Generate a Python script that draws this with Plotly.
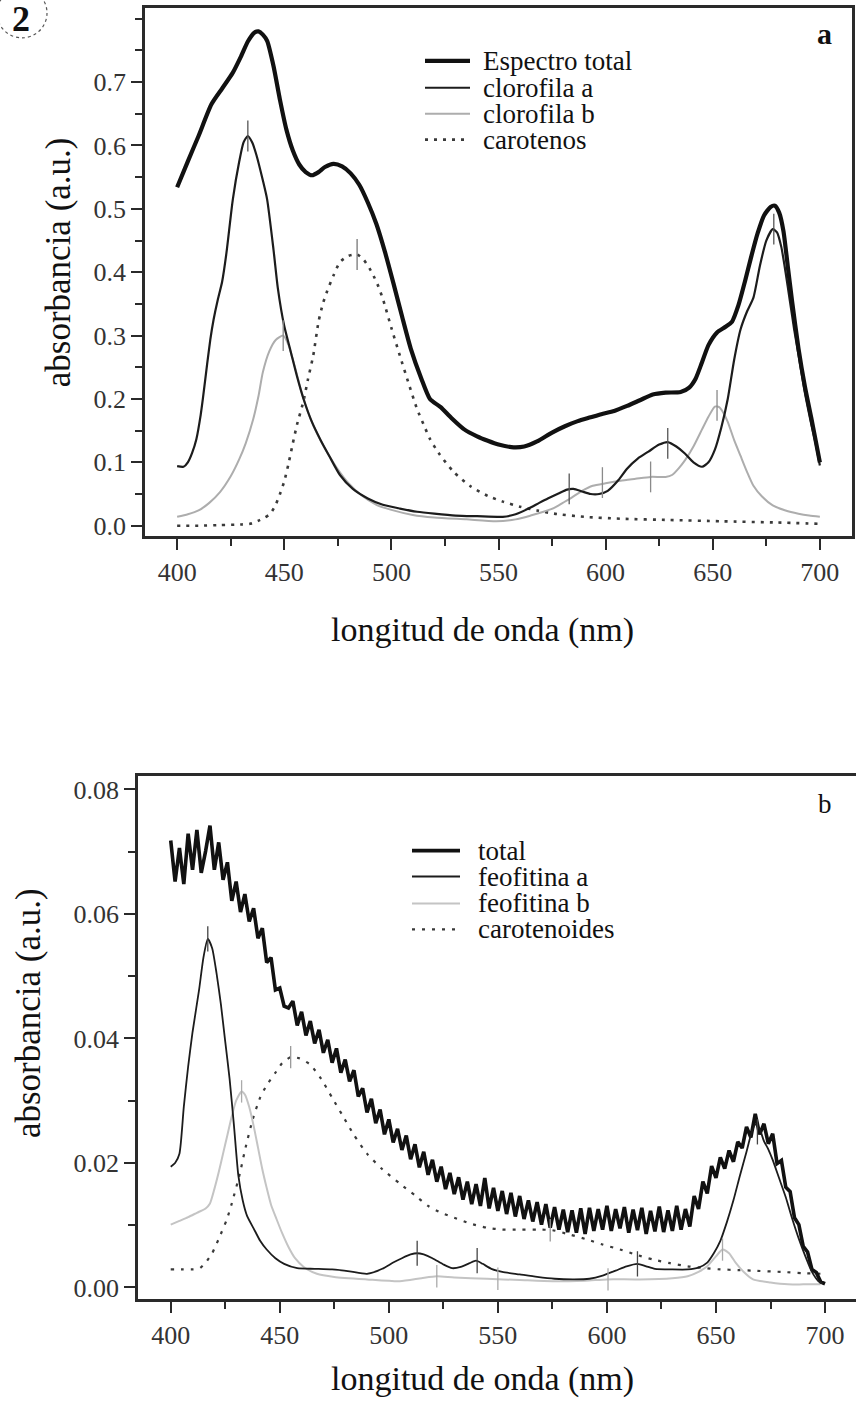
import plotly.graph_objects as go

W, H = 857, 1409
def px(x):
    return x / W
def py(y):
    return 1 - y / H

FONT = "Liberation Serif, Times New Roman, serif"

# ---------------- Panel a data ----------------
total_a_x = [400, 405, 410, 416, 421, 426, 430, 433, 436, 438, 440, 442, 445, 448, 451, 454, 457, 460, 463,
             466, 469, 473, 477, 481, 485, 489, 493, 497, 501, 505, 509, 514, 518, 523, 528, 534, 540, 545,
             550, 556, 562, 568, 575, 581, 587, 593, 598, 604, 610, 616, 622, 628, 635, 639, 642, 645, 648,
             652, 656, 659, 662, 665, 668, 671, 674, 677, 679, 681, 683, 685, 687, 690, 693, 696, 698, 700]
total_a_y = [0.534, 0.575, 0.615, 0.665, 0.690, 0.715, 0.742, 0.764, 0.778, 0.780, 0.775, 0.765, 0.725, 0.672,
             0.625, 0.592, 0.570, 0.558, 0.553, 0.558, 0.566, 0.571, 0.567, 0.556, 0.538, 0.510, 0.476, 0.432,
             0.382, 0.330, 0.280, 0.232, 0.200, 0.187, 0.170, 0.152, 0.141, 0.134, 0.128, 0.124, 0.125, 0.133,
             0.147, 0.157, 0.165, 0.171, 0.176, 0.181, 0.189, 0.198, 0.207, 0.210, 0.211, 0.218, 0.232, 0.258,
             0.285, 0.305, 0.314, 0.322, 0.348, 0.385, 0.425, 0.462, 0.490, 0.503, 0.505, 0.494, 0.465, 0.410,
             0.355, 0.280, 0.220, 0.170, 0.135, 0.100]

chla_x = [400, 403, 405, 407, 409, 411, 412, 414, 415.5, 417, 419, 421, 423, 426, 429, 431, 433, 435, 437, 440,
          442, 445, 447, 450, 453, 456, 459, 463, 467, 471, 476, 482, 489, 496, 504, 512, 520, 530, 540, 552,
          558, 564, 569, 573, 578, 582, 585, 589, 593, 597, 601, 606, 610, 615, 620, 625, 629, 633, 637, 641,
          645, 648, 651, 654, 657, 660, 663, 666, 669, 672, 675, 678, 680, 682, 684, 686, 688, 690, 693, 696,
          698, 700]
chla_y = [0.094, 0.093, 0.100, 0.115, 0.137, 0.175, 0.200, 0.255, 0.294, 0.325, 0.357, 0.385, 0.430, 0.515,
          0.575, 0.605, 0.615, 0.605, 0.585, 0.545, 0.515, 0.435, 0.375, 0.315, 0.275, 0.235, 0.200, 0.163,
          0.135, 0.110, 0.080, 0.058, 0.043, 0.033, 0.027, 0.022, 0.019, 0.016, 0.015, 0.014, 0.018, 0.027,
          0.036, 0.043, 0.051, 0.057, 0.058, 0.054, 0.050, 0.050, 0.055, 0.072, 0.090, 0.106, 0.117, 0.128,
          0.132, 0.125, 0.114, 0.100, 0.093, 0.100, 0.120, 0.155, 0.200, 0.262, 0.310, 0.338, 0.360, 0.410,
          0.450, 0.468, 0.463, 0.440, 0.400, 0.355, 0.310, 0.270, 0.210, 0.160, 0.130, 0.095]

chlb_x = [400, 405, 410, 415, 420, 425, 429, 432, 435.5, 438, 440, 443, 446, 449.5, 452, 455, 458, 461, 464,
          467, 470, 475, 480, 486, 493, 500, 510, 520, 535, 549, 558, 565, 571, 576, 580, 584, 589, 594, 600,
          607, 614, 621, 628, 631, 634, 637, 641, 645, 648, 651, 653, 655, 657, 660, 663, 666, 669, 673, 678,
          684, 690, 695, 700]
chlb_y = [0.014, 0.018, 0.024, 0.036, 0.053, 0.078, 0.105, 0.130, 0.168, 0.205, 0.242, 0.275, 0.293, 0.300,
          0.285, 0.250, 0.212, 0.180, 0.155, 0.134, 0.116, 0.089, 0.067, 0.048, 0.033, 0.025, 0.017, 0.013,
          0.010, 0.007, 0.010, 0.016, 0.022, 0.028, 0.036, 0.044, 0.055, 0.063, 0.067, 0.071, 0.074, 0.077,
          0.077, 0.080, 0.090, 0.103, 0.125, 0.152, 0.172, 0.188, 0.187, 0.178, 0.164, 0.135, 0.110, 0.085,
          0.063, 0.046, 0.032, 0.024, 0.019, 0.016, 0.014]

car_x = [400, 410, 420, 430, 434, 438, 441, 443.5, 446, 448, 450, 452, 454, 456, 459, 461, 463.5, 466, 468,
         470, 473, 476, 480, 484, 487, 490, 492, 494, 496.3, 500, 504, 508, 512, 515, 518, 522, 529, 537, 545,
         552, 560, 568, 576, 590, 607, 630, 654, 680, 700]
car_y = [0.000, 0.000, 0.001, 0.002, 0.003, 0.008, 0.013, 0.019, 0.033, 0.050, 0.070, 0.098, 0.130, 0.160,
         0.197, 0.230, 0.268, 0.322, 0.350, 0.370, 0.395, 0.416, 0.426, 0.428, 0.420, 0.405, 0.392, 0.377,
         0.355, 0.312, 0.268, 0.225, 0.184, 0.160, 0.137, 0.115, 0.085, 0.062, 0.047, 0.038, 0.030, 0.024,
         0.019, 0.014, 0.011, 0.009, 0.007, 0.005, 0.003]

# peak markers (panel a)
chla_pk_x = [433, 583, 629, 678.5]
chla_pk_y = [0.615, 0.058, 0.130, 0.468]
chlb_pk_x = [449.5, 598.5, 621, 652]
chlb_pk_y = [0.300, 0.068, 0.077, 0.190]
car_pk_x = [484]
car_pk_y = [0.428]

# ---------------- Panel b data ----------------
total_b_x = list(range(400, 701, 2))
total_b_y = [
    0.0718, 0.0652, 0.0706, 0.0648, 0.0729, 0.0671, 0.0735, 0.0666, 0.0701, 0.0742,
    0.0671, 0.0715, 0.0655, 0.0683, 0.0621, 0.0652, 0.0603, 0.0632, 0.0588, 0.0609,
    0.0561, 0.0577, 0.0522, 0.0530, 0.0478, 0.0481, 0.0452, 0.0449, 0.0460, 0.0421,
    0.0443, 0.0405, 0.0428, 0.0392, 0.0414, 0.0377, 0.0398, 0.0361, 0.0384, 0.0345,
    0.0366, 0.0331, 0.0349, 0.0307, 0.0320, 0.0281, 0.0303, 0.0264, 0.0286, 0.0246,
    0.0270, 0.0233, 0.0255, 0.0221, 0.0244, 0.0206, 0.0230, 0.0193, 0.0218, 0.0181,
    0.0205, 0.0170, 0.0194, 0.0158, 0.0184, 0.0150, 0.0177, 0.0141, 0.0170, 0.0134,
    0.0166, 0.0131, 0.0176, 0.0127, 0.0160, 0.0123, 0.0155, 0.0118, 0.0152, 0.0114,
    0.0147, 0.0110, 0.0140, 0.0106, 0.0137, 0.0101, 0.0134, 0.0096, 0.0129, 0.0093,
    0.0125, 0.0089, 0.0124, 0.0088, 0.0127, 0.0086, 0.0128, 0.0091, 0.0126, 0.0093,
    0.0131, 0.0091, 0.0126, 0.0095, 0.0129, 0.0088, 0.0125, 0.0092, 0.0128, 0.0086,
    0.0123, 0.0090, 0.0130, 0.0089, 0.0124, 0.0091, 0.0131, 0.0093, 0.0126, 0.0098,
    0.0147, 0.0126, 0.0170, 0.0151, 0.0195, 0.0176, 0.0209, 0.0191, 0.0220, 0.0202,
    0.0234, 0.0224, 0.0258, 0.0241, 0.0279, 0.0246, 0.0263, 0.0231, 0.0247, 0.0199,
    0.0204, 0.0161, 0.0154, 0.0112, 0.0101, 0.0066, 0.0057, 0.0029, 0.0024, 0.0009,
    0.0006]

feoa_x = [400, 402, 404, 406, 408, 410, 413, 415, 417, 419, 421, 423, 425, 427, 429, 431, 433, 435, 438, 441,
          444, 448, 452, 458, 466, 474, 482, 490, 497, 502, 506, 510, 513, 516, 520, 525, 529, 533, 537, 540,
          543, 547, 552, 560, 568, 576, 585, 592, 598, 604, 609, 614, 618, 622, 630, 637, 642, 646, 649, 652,
          655, 658, 661, 664, 666, 668, 670, 672, 674, 676, 679, 682, 685, 688, 691, 694, 697, 699]
feoa_y = [0.0194, 0.0200, 0.0215, 0.0290, 0.0355, 0.0410, 0.0478, 0.0530, 0.0560, 0.0545, 0.0505, 0.0455,
          0.0395, 0.0335, 0.0260, 0.0180, 0.0140, 0.0115, 0.0095, 0.0075, 0.0061, 0.0047, 0.0038, 0.0031,
          0.0030, 0.0029, 0.0026, 0.0022, 0.0030, 0.0040, 0.0047, 0.0053, 0.0055, 0.0053, 0.0047, 0.0037,
          0.0031, 0.0033, 0.0039, 0.0043, 0.0038, 0.0030, 0.0025, 0.0021, 0.0017, 0.0014, 0.0013, 0.0014,
          0.0019, 0.0027, 0.0034, 0.0038, 0.0034, 0.0030, 0.0029, 0.0029, 0.0032, 0.0040, 0.0055, 0.0075,
          0.0105, 0.0140, 0.0180, 0.0218, 0.0245, 0.0262, 0.0255, 0.0235, 0.0222, 0.0205, 0.0175, 0.0145,
          0.0110, 0.0078, 0.0050, 0.0025, 0.0010, 0.0006]

feob_x = [400, 404, 408, 412, 416, 418, 420, 422, 424, 426, 428, 430, 432.5, 434, 436, 438, 440, 442, 444, 446,
          448.5, 451, 454, 457, 461, 467, 475, 490, 505, 515, 522, 530, 545, 560, 575, 590, 600, 615, 630, 637,
          642, 646, 650, 653, 656, 659, 663, 667, 675, 683, 690, 698]
feob_y = [0.0101, 0.0107, 0.0113, 0.0120, 0.0127, 0.0135, 0.0158, 0.0185, 0.0215, 0.0245, 0.0275, 0.0300,
          0.0315, 0.0310, 0.0290, 0.0260, 0.0225, 0.0190, 0.0160, 0.0133, 0.0110, 0.0088, 0.0065, 0.0047,
          0.0033, 0.0022, 0.0017, 0.0013, 0.0010, 0.0015, 0.0018, 0.0016, 0.0014, 0.0012, 0.0010, 0.0011,
          0.0013, 0.0013, 0.0015, 0.0018, 0.0025, 0.0034, 0.0050, 0.0061, 0.0055, 0.0040, 0.0024, 0.0013,
          0.0008, 0.0005, 0.0005, 0.0005]

carb_x = [400, 405, 410, 413, 416, 419, 422, 425.7, 428, 431.7, 434, 437.6, 441, 444, 448, 451, 455, 459, 464,
          469, 474, 479, 484, 490, 497, 505, 512, 518, 524, 530, 537, 545, 552, 560, 568, 575, 583, 591, 598,
          606, 613, 621, 629, 637, 645, 652, 660, 667, 680, 690, 698]
carb_y = [0.0029, 0.0029, 0.0029, 0.0030, 0.0040, 0.0055, 0.0078, 0.0109, 0.0135, 0.0183, 0.0220, 0.0270,
          0.0305, 0.0325, 0.0345, 0.0360, 0.0370, 0.0368, 0.0358, 0.0335, 0.0305, 0.0275, 0.0245, 0.0215,
          0.0190, 0.0167, 0.0148, 0.0131, 0.0120, 0.0112, 0.0103, 0.0096, 0.0093, 0.0093, 0.0093, 0.0092,
          0.0085, 0.0077, 0.0069, 0.0061, 0.0053, 0.0045, 0.0039, 0.0034, 0.0031, 0.0029, 0.0028, 0.0027,
          0.0025, 0.0023, 0.0022]

feoa_pk_x = [417, 513, 540.5, 614, 669]
feoa_pk_y = [0.0560, 0.0055, 0.0043, 0.0038, 0.0250]
feob_pk_x = [432.5, 522, 550, 600.5, 653]
feob_pk_y = [0.0315, 0.0018, 0.0014, 0.0013, 0.0061]
carb_pk_x = [455, 574]
carb_pk_y = [0.0370, 0.0092]

# tick labels
x_ticks = [400, 450, 500, 550, 600, 650, 700]
ya_ticks = [0.0, 0.1, 0.2, 0.3, 0.4, 0.5, 0.6, 0.7]
yb_ticks = [0.00, 0.02, 0.04, 0.06, 0.08]

legend_a = ["Espectro total", "clorofila a", "clorofila b", "carotenos"]
legend_b = ["total", "feofitina a", "feofitina b", "carotenoides"]

# ---------------- styles ----------------
BLACK = "#111111"
GREY = "#adadad"
GREY_B = "#c4c4c4"
DOT = "#3a3a3a"
styles_a = [dict(color=BLACK, width=4.2, dash="solid"),
            dict(color="#1c1c1c", width=2.2, dash="solid"),
            dict(color=GREY, width=2.0, dash="solid"),
            dict(color=DOT, width=2.6, dash="3px,6px")]
styles_b = [dict(color=BLACK, width=3.6, dash="solid"),
            dict(color="#1c1c1c", width=1.8, dash="solid"),
            dict(color=GREY_B, width=2.0, dash="solid"),
            dict(color=DOT, width=2.2, dash="3px,7px")]

fig = go.Figure()

def add_line(x, y, style, xa, ya, shape="spline"):
    fig.add_trace(go.Scatter(x=x, y=y, mode="lines", line=dict(shape=shape, smoothing=0.6, **style),
                             xaxis=xa, yaxis=ya, showlegend=False, hoverinfo="skip"))

def add_peaks(x, y, color, size, xa, ya):
    fig.add_trace(go.Scatter(x=x, y=y, mode="markers",
                             marker=dict(symbol="line-ns", size=size, color=color,
                                         line=dict(color=color, width=1.3)),
                             xaxis=xa, yaxis=ya, showlegend=False, hoverinfo="skip"))

# panel a
add_line(car_x, car_y, styles_a[3], "x", "y")
add_line(chlb_x, chlb_y, styles_a[2], "x", "y")
add_line(chla_x, chla_y, styles_a[1], "x", "y")
add_line(total_a_x, total_a_y, styles_a[0], "x", "y")
add_peaks(chla_pk_x, chla_pk_y, "#555555", 22, "x", "y")
add_peaks(chlb_pk_x, chlb_pk_y, "#8a8a8a", 22, "x", "y")
add_peaks(car_pk_x, car_pk_y, "#777777", 22, "x", "y")

# panel b
add_line(carb_x, carb_y, styles_b[3], "x2", "y2")
add_line(feob_x, feob_y, styles_b[2], "x2", "y2")
add_line(total_b_x, total_b_y, styles_b[0], "x2", "y2", shape="linear")
add_line(feoa_x, feoa_y, styles_b[1], "x2", "y2")
add_peaks(feoa_pk_x, feoa_pk_y, "#444444", 18, "x2", "y2")
add_peaks(feob_pk_x, feob_pk_y, "#aaaaaa", 16, "x2", "y2")
add_peaks(carb_pk_x, carb_pk_y, "#999999", 16, "x2", "y2")

AX = "#2a2a2a"
tickfont = dict(family=FONT, size=26, color="#333333")

def xaxis_cfg(domain, rng):
    return dict(domain=domain, range=rng, tickvals=x_ticks, ticks="outside", ticklen=11, tickwidth=2,
                tickcolor=AX, showline=True, linecolor=AX, linewidth=2.5, mirror=True, showgrid=False,
                zeroline=False, tickfont=tickfont, ticklabelstandoff=0,
                minor=dict(dtick=25, tick0=400, ticks="outside", ticklen=7, tickwidth=2, tickcolor=AX,
                           showgrid=False))

def yaxis_cfg(domain, rng, tv, fmt, minor_dt, mirror=True):
    return dict(domain=domain, range=rng, tickvals=tv, tickformat=fmt, ticks="outside", ticklen=11,
                tickwidth=2, tickcolor=AX, showline=True, linecolor=AX, linewidth=2.5, mirror=mirror,
                showgrid=False, zeroline=False, tickfont=tickfont, ticklabelstandoff=0,
                minor=dict(dtick=minor_dt, tick0=0, ticks="outside", ticklen=7, tickwidth=2, tickcolor=AX,
                           showgrid=False))

fig.update_layout(
    width=W, height=H, margin=dict(l=0, r=0, t=0, b=0),
    paper_bgcolor="white", plot_bgcolor="white",
    font=dict(family=FONT, color="#111111"),
    xaxis=xaxis_cfg([px(145), px(852)], [385, 715]),
    yaxis=yaxis_cfg([py(538), py(8)], [-0.017, 0.817], ya_ticks, ".1f", 0.05),
    xaxis2=dict(xaxis_cfg([px(138), px(856)], [385, 714.2]), anchor="y2"),
    yaxis2=dict(yaxis_cfg([py(1303), py(778)], [-0.0019, 0.0822], yb_ticks, ".2f", 0.01, mirror=False),
                anchor="x2"),
)
fig.layout.xaxis.anchor = "y"
fig.layout.yaxis.anchor = "x"

annotations = []
shapes = []

# axis titles
for (cx, cy) in [(482, 632), (482, 1383)]:
    annotations.append(dict(text="longitud de onda (nm)", x=px(cx), y=py(cy), xref="paper", yref="paper",
                            showarrow=False, xanchor="center", yanchor="middle",
                            font=dict(family=FONT, size=34, color="#111111")))
for (cx, cy) in [(58, 263), (28, 1016)]:
    annotations.append(dict(text="absorbancia (a.u.)", x=px(cx), y=py(cy), xref="paper", yref="paper",
                            showarrow=False, xanchor="center", yanchor="middle", textangle=-90,
                            font=dict(family=FONT, size=35, color="#111111")))

# panel labels
annotations.append(dict(text="<b>a</b>", x=px(824), y=py(34), xref="paper", yref="paper", showarrow=False,
                        xanchor="center", yanchor="middle", font=dict(family=FONT, size=30, color="#111111")))
annotations.append(dict(text="b", x=px(825), y=py(806), xref="paper", yref="paper", showarrow=False,
                        xanchor="center", yanchor="middle", font=dict(family=FONT, size=27, color="#111111")))

# manual legends
def legend(names, styles, x0, x1, xt, ys):
    for name, st, yy in zip(names, styles, ys):
        shapes.append(dict(type="line", xref="paper", yref="paper", x0=px(x0), x1=px(x1), y0=py(yy), y1=py(yy),
                           line=dict(color=st["color"], width=st["width"], dash=st["dash"])))
        annotations.append(dict(text=name, x=px(xt), y=py(yy), xref="paper", yref="paper", showarrow=False,
                                xanchor="left", yanchor="middle",
                                font=dict(family=FONT, size=27, color="#111111")))

legend(legend_a, styles_a, 425, 470, 481, [61, 88, 114, 140])
legend(legend_b, styles_b, 412, 460, 476, [853, 879, 906, 932])

# circled number in the corner
shapes.append(dict(type="circle", xref="paper", yref="paper", x0=px(-3), x1=px(47), y0=py(38), y1=py(-12),
                   line=dict(color="#555555", width=1.2, dash="dot")))
annotations.append(dict(text="<b>2</b>", x=px(21), y=py(19), xref="paper", yref="paper", showarrow=False,
                        xanchor="center", yanchor="middle", font=dict(family=FONT, size=36, color="#111111")))

fig.update_layout(annotations=annotations, shapes=shapes)
fig.write_html("out.html")
